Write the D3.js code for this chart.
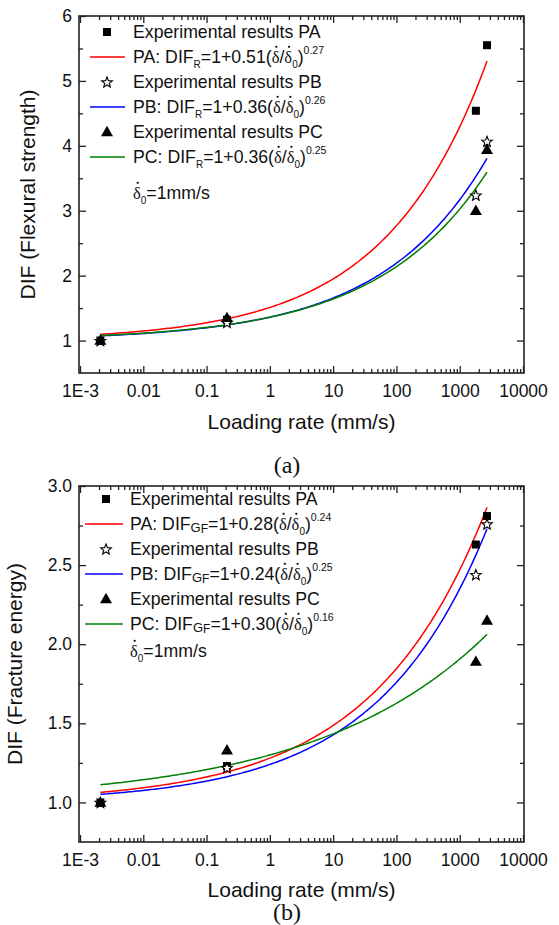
<!DOCTYPE html>
<html>
<head>
<meta charset="utf-8">
<script src="https://cdn.jsdelivr.net/npm/d3@7"></script>
<style>
  html, body { margin: 0; padding: 0; background: #fff; }
  svg { display: block; }
</style>
</head>
<body>
<svg id="fig" width="559" height="925"></svg>
<script>
// Loading rates (mm/s) of the four test groups
const loadingRates = [0.0021, 0.21, 1800, 2700];

// Dynamic increase factor of flexural strength
const flexPA = [1.00, 1.32, 4.54, 5.55];
const flexPB = [1.00, 1.28, 3.24, 4.07];
const flexPC = [1.00, 1.35, 3.00, 3.94];
const flexFitCoef = [0.51, 0.36, 0.36];
const flexFitExp = [0.27, 0.26, 0.25];

// Dynamic increase factor of fracture energy
const fracPA = [1.00, 1.23, 2.63, 2.81];
const fracPB = [1.00, 1.22, 2.44, 2.76];
const fracPC = [1.00, 1.33, 1.89, 2.15];
const fracFitCoef = [0.28, 0.24, 0.30];
const fracFitExp = [0.24, 0.25, 0.16];

const seriesNames = ["PA", "PB", "PC"];
const xTickValues = [1e-3, 1e-2, 1e-1, 1, 10, 100, 1000, 10000];
const xTickLabels = ["1E-3", "0.01", "0.1", "1", "10", "100", "1000", "10000"];
const flexYTicks = [1, 2, 3, 4, 5, 6];
const flexYTickLabels = ["1", "2", "3", "4", "5", "6"];
const fracYTicks = [1.0, 1.5, 2.0, 2.5, 3.0];
const fracYTickLabels = ["1.0", "1.5", "2.0", "2.5", "3.0"];

const SANS = "'Liberation Sans', Arial, Helvetica, sans-serif";
const SERIF = "'Liberation Serif', 'Times New Roman', serif";
const INK = "#111";
const AXIS = "#222";
const lineColors = ["#ff0000", "#0000ff", "#008000"];
const LEGEND_FS = 17.7;

const svg = d3.select("#fig");
svg.append("rect").attr("width", 559).attr("height", 925).attr("fill", "#fff");

const left = 79, right = 524;
const x = d3.scaleLog().domain([1e-3, 1e4]).range([80, 523]);

// log minor ticks 2..9 in every decade
const xMinor = [];
for (let e = -3; e < 4; e++) for (let k = 2; k <= 9; k++) xMinor.push(k * Math.pow(10, e));

// marker shapes
const starPath = (() => {
  const pts = [];
  for (let i = 0; i < 10; i++) {
    const r = i % 2 === 0 ? 5.6 : 2.4;
    const a = -Math.PI / 2 + i * Math.PI / 5;
    pts.push([r * Math.cos(a), r * Math.sin(a) + 0.6]);
  }
  return "M" + pts.map(p => p[0].toFixed(2) + "," + p[1].toFixed(2)).join("L") + "Z";
})();
const markerDefs = [
  { d: "M-4,-4H4V4H-4Z", fill: "#000", stroke: "none" },
  { d: starPath, fill: "#fff", stroke: "#000" },
  { d: "M0,-6.2L6,4.2L-6,4.2Z", fill: "#000", stroke: "none" }
];

// text built from runs of differing size / offset (sub- and superscripts, dotted delta)
function richText(g, x0, yBase, runs) {
  let cx = x0;
  runs.forEach(r => {
    const size = r.size || LEGEND_FS;
    const t = g.append("text")
      .attr("x", cx).attr("y", yBase + (r.dy || 0))
      .attr("font-size", size)
      .attr("font-family", r.serif ? SERIF : SANS)
      .attr("fill", INK)
      .text(r.t);
    const w = t.node().getComputedTextLength();
    if (r.dot) {
      g.append("circle").attr("cx", cx + w * 0.5 + 0.8).attr("cy", yBase - size * 0.98)
        .attr("r", 1.15).attr("fill", INK);
    }
    cx += w + (r.gap || 0);
  });
}

const deltaRun = () => ({ t: "δ", serif: true, dot: true, size: 16.5 });

function drawPanel(cfg) {
  const g = svg.append("g");
  const y = d3.scaleLinear().domain(cfg.yDomain).range([cfg.bottom, cfg.top]);

  const styleAxis = (sel, fs) => {
    sel.select(".domain").remove();
    sel.selectAll("line").attr("stroke", AXIS).attr("stroke-width", 1.3);
    sel.selectAll("text").attr("fill", INK).attr("font-size", fs).attr("font-family", SANS);
    sel.attr("font-family", SANS);
  };

  // x axes (bottom with labels, top mirrored)
  g.append("g").attr("transform", `translate(0,${cfg.bottom})`)
    .call(d3.axisBottom(x).tickValues(xTickValues).tickFormat((d, i) => xTickLabels[i]).tickSize(-7).tickPadding(12))
    .call(s => styleAxis(s, 17.5));
  g.append("g").attr("transform", `translate(0,${cfg.bottom})`)
    .call(d3.axisBottom(x).tickValues(xMinor).tickFormat("").tickSize(-4))
    .call(s => styleAxis(s, 17.5));
  g.append("g").attr("transform", `translate(0,${cfg.top})`)
    .call(d3.axisTop(x).tickValues(xTickValues).tickFormat("").tickSize(-7))
    .call(s => styleAxis(s, 17.5));
  g.append("g").attr("transform", `translate(0,${cfg.top})`)
    .call(d3.axisTop(x).tickValues(xMinor).tickFormat("").tickSize(-4))
    .call(s => styleAxis(s, 17.5));

  // y axes (left with labels, right mirrored)
  const yMinor = cfg.yTicks.slice(0, -1).map((v, i) => (v + cfg.yTicks[i + 1]) / 2);
  g.append("g").attr("transform", `translate(${left},0)`)
    .call(d3.axisLeft(y).tickValues(cfg.yTicks).tickFormat((d, i) => cfg.yTickLabels[i]).tickSize(-7).tickPadding(7))
    .call(s => styleAxis(s, 17.5));
  g.append("g").attr("transform", `translate(${left},0)`)
    .call(d3.axisLeft(y).tickValues(yMinor).tickFormat("").tickSize(-4))
    .call(s => styleAxis(s, 17.5));
  g.append("g").attr("transform", `translate(${right},0)`)
    .call(d3.axisRight(y).tickValues(cfg.yTicks).tickFormat("").tickSize(-7))
    .call(s => styleAxis(s, 17.5));
  g.append("g").attr("transform", `translate(${right},0)`)
    .call(d3.axisRight(y).tickValues(yMinor).tickFormat("").tickSize(-4))
    .call(s => styleAxis(s, 17.5));

  // frame
  g.append("rect").attr("x", left).attr("y", cfg.top)
    .attr("width", right - left).attr("height", cfg.bottom - cfg.top)
    .attr("fill", "none").attr("stroke", AXIS).attr("stroke-width", 1.6);

  // fitted power-law curves DIF = 1 + a (rate / 1 mm/s)^b
  const lo = Math.log10(loadingRates[0]), hi = Math.log10(loadingRates[loadingRates.length - 1]);
  const line = d3.line().x(d => x(d[0])).y(d => y(d[1]));
  cfg.coef.forEach((a, i) => {
    const b = cfg.expo[i];
    const pts = d3.range(0, 201).map(k => {
      const r = Math.pow(10, lo + (hi - lo) * k / 200);
      return [r, 1 + a * Math.pow(r, b)];
    });
    g.append("path").attr("d", line(pts)).attr("fill", "none")
      .attr("stroke", lineColors[i]).attr("stroke-width", 1.5);
  });

  // experimental points
  cfg.series.forEach((vals, i) => {
    const m = markerDefs[i];
    g.append("g").selectAll("path").data(vals).join("path")
      .attr("transform", (v, j) => `translate(${x(loadingRates[j])},${y(v)})`)
      .attr("d", m.d).attr("fill", m.fill).attr("stroke", m.stroke).attr("stroke-width", 1.1);
  });

  // axis titles
  g.append("text").attr("x", (left + right) / 2).attr("y", cfg.xTitleY)
    .attr("text-anchor", "middle").attr("font-size", 21).attr("font-family", SANS).attr("fill", INK)
    .text("Loading rate (mm/s)");
  g.append("text")
    .attr("transform", `translate(${cfg.yTitleX},${(cfg.top + cfg.bottom) / 2}) rotate(-90)`)
    .attr("text-anchor", "middle").attr("dy", "0.36em")
    .attr("font-size", 21).attr("font-family", SANS).attr("fill", INK)
    .text(cfg.yTitle);

  // legend
  const L = cfg.legend;
  seriesNames.forEach((name, i) => {
    const yExp = L.rows[2 * i], yFit = L.rows[2 * i + 1];
    const m = markerDefs[i];
    g.append("path").attr("transform", `translate(${L.markX},${yExp})`)
      .attr("d", m.d).attr("fill", m.fill).attr("stroke", m.stroke).attr("stroke-width", 1.1);
    g.append("text").attr("x", L.textX).attr("y", yExp + 6)
      .attr("font-size", LEGEND_FS).attr("font-family", SANS).attr("fill", INK)
      .text("Experimental results " + name);
    g.append("line").attr("x1", L.lineX[0]).attr("x2", L.lineX[1]).attr("y1", yFit).attr("y2", yFit)
      .attr("stroke", lineColors[i]).attr("stroke-width", 1.5);
    const runs = [{ t: name + ": DIF" }]
      .concat(cfg.subRuns)
      .concat([{ t: "=1+" + cfg.coef[i].toFixed(2) + "(" }, deltaRun(), { t: "/" }, deltaRun()])
      .concat([{ t: "0", size: 10, dy: 5 }, { t: ")" }, { t: cfg.expo[i].toFixed(2), size: 10.5, dy: -9 }]);
    richText(g, L.textX, yFit + 6, runs);
  });
  richText(g, L.textX, L.refY + 6, [deltaRun(), { t: "0", size: 10, dy: 5 }, { t: "=1mm/s" }]);

  // panel label
  g.append("text").attr("x", 287).attr("y", cfg.panelY)
    .attr("text-anchor", "middle").attr("font-size", 24).attr("font-family", SERIF).attr("fill", INK)
    .text(cfg.panel);
}

drawPanel({
  top: 16, bottom: 373, yDomain: [0.5, 6],
  yTicks: flexYTicks, yTickLabels: flexYTickLabels,
  series: [flexPA, flexPB, flexPC], coef: flexFitCoef, expo: flexFitExp,
  subRuns: [{ t: "R", size: 10, dy: 5 }],
  yTitle: "DIF (Flexural strength)", yTitleX: 27, xTitleY: 429,
  legend: { rows: [32, 57, 82, 107, 132, 157], refY: 193, markX: 107, textX: 133, lineX: [90, 125] },
  panel: "(a)", panelY: 473
});

drawPanel({
  top: 486, bottom: 842, yDomain: [0.75, 3.0],
  yTicks: fracYTicks, yTickLabels: fracYTickLabels,
  series: [fracPA, fracPB, fracPC], coef: fracFitCoef, expo: fracFitExp,
  subRuns: [{ t: "G", size: 13, dy: 2 }, { t: "F", size: 12, dy: 3 }],
  yTitle: "DIF (Fracture energy)", yTitleX: 14, xTitleY: 897,
  legend: { rows: [499, 524, 549, 574, 599, 624], refY: 651, markX: 106, textX: 130, lineX: [85, 123] },
  panel: "(b)", panelY: 920
});
</script>
</body>
</html>
